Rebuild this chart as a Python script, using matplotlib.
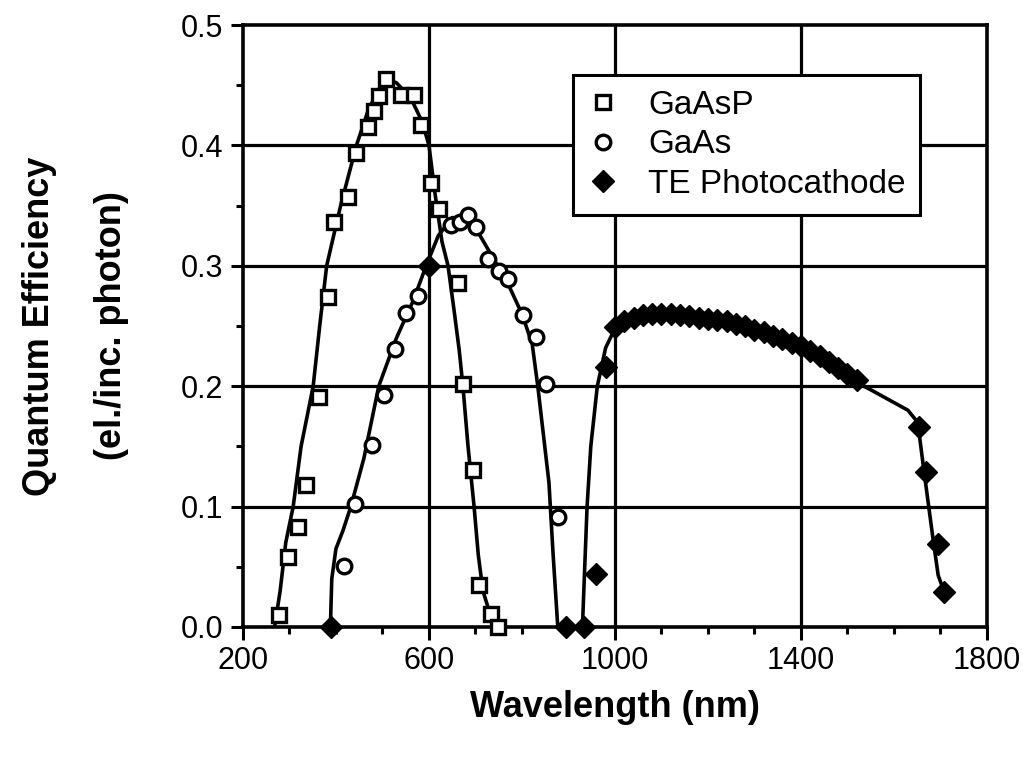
import matplotlib
matplotlib.use("Agg")
import matplotlib.pyplot as plt
from matplotlib.ticker import MultipleLocator, FixedLocator

plt.rcParams['font.family'] = ['Liberation Sans', 'DejaVu Sans']

# measured points (wavelength nm, quantum efficiency)
gaasp_x = [277, 297, 318, 335, 363, 383, 396, 426, 443, 469, 482, 492, 507,
           540, 568, 583, 604, 621, 662, 673, 694, 707, 733, 748]
gaasp_y = [0.010, 0.058, 0.083, 0.118, 0.191, 0.274, 0.336, 0.357, 0.394, 0.415,
           0.429, 0.441, 0.455, 0.442, 0.442, 0.417, 0.369, 0.347, 0.286, 0.202,
           0.130, 0.035, 0.011, 0.0]

gaas_x = [418, 440, 477, 503, 527, 551, 576, 647, 666, 684, 701, 727, 751,
          770, 802, 830, 851, 877]
gaas_y = [0.051, 0.102, 0.151, 0.193, 0.231, 0.261, 0.275, 0.334, 0.336, 0.342,
          0.332, 0.306, 0.296, 0.289, 0.259, 0.241, 0.202, 0.091]

te_x = [390, 600, 894, 933, 959, 980,
        1000, 1020, 1040, 1060, 1080, 1100, 1120, 1140, 1160, 1180, 1200,
        1220, 1240, 1260, 1280, 1300, 1320, 1340, 1360, 1380, 1400, 1420,
        1440, 1460, 1480, 1500, 1520,
        1653, 1668, 1694, 1707]
te_y = [0.0, 0.300, 0.0, 0.0, 0.044, 0.216,
        0.249, 0.254, 0.257, 0.259, 0.260, 0.260, 0.260, 0.259, 0.258, 0.257,
        0.256, 0.255, 0.254, 0.252, 0.250, 0.247, 0.245, 0.242, 0.239, 0.236,
        0.233, 0.229, 0.225, 0.220, 0.215, 0.210, 0.205,
        0.166, 0.129, 0.069, 0.029]

# fitted curves as drawn in the figure
gaasp_fit_x = [268, 280, 292, 308, 325, 351, 365, 380, 410, 444, 470, 505, 530,
               560, 585, 600, 613, 628, 641, 655, 665, 673, 684, 697, 706, 716, 740]
gaasp_fit_y = [0.0, 0.03, 0.07, 0.10, 0.15, 0.20, 0.25, 0.30, 0.35, 0.40, 0.43,
               0.456, 0.452, 0.44, 0.42, 0.40, 0.36, 0.32, 0.30, 0.26, 0.23, 0.20,
               0.15, 0.10, 0.06, 0.03, 0.0]

gaas_fit_x = [388, 391, 400, 415, 432, 460, 492, 530, 565, 594, 620, 650, 680,
              710, 740, 770, 800, 822, 834, 846, 858, 867, 877]
gaas_fit_y = [0.0, 0.04, 0.065, 0.08, 0.10, 0.14, 0.20, 0.24, 0.27, 0.30, 0.325,
              0.34, 0.34, 0.325, 0.305, 0.285, 0.26, 0.235, 0.20, 0.16, 0.12,
              0.06, 0.0]

te_fit_x = [930, 934, 940, 948, 962, 980, 1000, 1050, 1100, 1150, 1200, 1250,
            1300, 1350, 1400, 1450, 1500, 1550, 1630, 1651, 1664, 1684, 1695, 1706]
te_fit_y = [0.0, 0.04, 0.10, 0.15, 0.20, 0.232, 0.248, 0.258, 0.260, 0.259,
            0.257, 0.253, 0.249, 0.242, 0.234, 0.222, 0.207, 0.197, 0.180, 0.170,
            0.131, 0.073, 0.043, 0.031]

x_ticks = [200, 600, 1000, 1400, 1800]
x_grid = [600, 1000, 1400]
y_grid = [0.1, 0.2, 0.3, 0.4]

fig = plt.figure(figsize=(10.23, 7.59), dpi=100)
ax = fig.add_axes([0.2375, 0.174, 0.7273, 0.793])

for gx in x_grid:
    ax.axvline(gx, color='black', lw=2.3, zorder=1)
for gy in y_grid:
    ax.axhline(gy, color='black', lw=2.3, zorder=1)

lw = 2.6
ax.plot(gaasp_fit_x, gaasp_fit_y, color='black', lw=lw, zorder=3)
ax.plot(gaas_fit_x, gaas_fit_y, color='black', lw=lw, zorder=3)
ax.plot(te_fit_x, te_fit_y, color='black', lw=lw, zorder=3)

ax.plot(gaasp_x, gaasp_y, ls='none', marker='s', ms=10.5, mfc='white', mec='black',
        mew=2.4, label='GaAsP', zorder=4, clip_on=False)
ax.plot(gaas_x, gaas_y, ls='none', marker='o', ms=10.5, mfc='white', mec='black',
        mew=2.4, label='GaAs', zorder=4, clip_on=False)
ax.plot(te_x, te_y, ls='none', marker='D', ms=11, mfc='black', mec='black',
        label='TE Photocathode', zorder=5, clip_on=False)

ax.set_xlim(200, 1800)
ax.set_ylim(0, 0.5)
ax.xaxis.set_major_locator(FixedLocator(x_ticks))
ax.xaxis.set_minor_locator(MultipleLocator(100))
ax.yaxis.set_major_locator(MultipleLocator(0.1))
ax.yaxis.set_minor_locator(MultipleLocator(0.05))
ax.yaxis.set_major_formatter(plt.FormatStrFormatter('%.1f'))

for s in ax.spines.values():
    s.set_linewidth(2.6)
ax.tick_params(which='major', direction='out', length=9, width=2.2, pad=5,
               labelsize=22)
ax.tick_params(which='minor', direction='out', length=5, width=2.2)

ax.set_xlabel('Wavelength (nm)', fontsize=26, fontweight='bold', labelpad=10)
fig.text(0.039, 0.5705, 'Quantum Efficiency', rotation=90, fontsize=26,
         fontweight='bold', ha='center', va='center')
fig.text(0.109, 0.5705, '(el./inc. photon)', rotation=90, fontsize=26,
         fontweight='bold', ha='center', va='center')

leg = ax.legend(loc='upper left', bbox_to_anchor=(0.4435, 0.917), borderaxespad=0,
                fontsize=24, frameon=True, fancybox=False, framealpha=1,
                edgecolor='black', handlelength=0.9, handletextpad=0.9,
                labelspacing=0.25, borderpad=0.45)
leg.get_frame().set_linewidth(2.2)
leg.set_zorder(6)

fig.savefig('out.png', dpi=100)
